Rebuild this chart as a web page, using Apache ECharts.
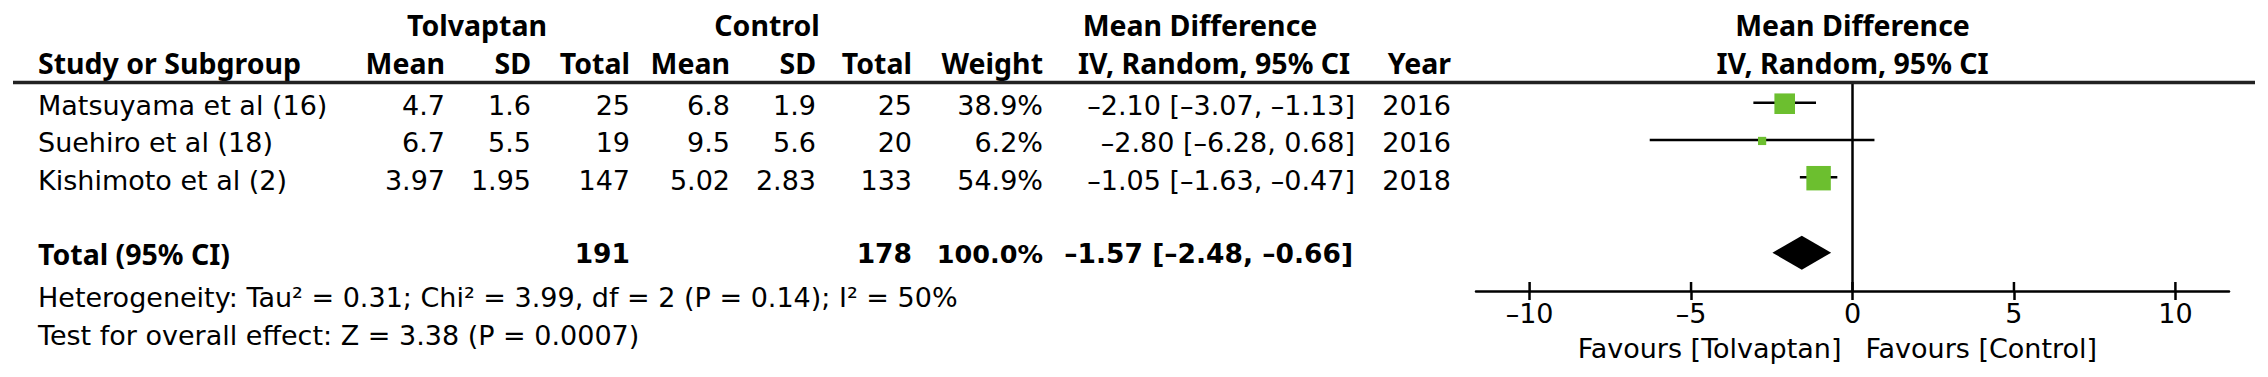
<!DOCTYPE html>
<html><head><meta charset="utf-8">
<script src="https://cdn.jsdelivr.net/npm/echarts@6/dist/echarts.min.js"></script>
<style>html,body{margin:0;padding:0;background:#fff}#c{width:2268px;height:377px}</style>
</head><body><div id="c"></div>
<script>
// ---------- data ----------
const studies   = ['Matsuyama et al (16)', 'Suehiro et al (18)', 'Kishimoto et al (2)'];
const tolMean   = [4.7, 6.7, 3.97];
const tolSD     = [1.6, 5.5, 1.95];
const tolTotal  = [25, 19, 147];
const ctrlMean  = [6.8, 9.5, 5.02];
const ctrlSD    = [1.9, 5.6, 2.83];
const ctrlTotal = [25, 20, 133];
const weights   = [38.9, 6.2, 54.9];
const mdValue   = [-2.10, -2.80, -1.05];
const mdLow     = [-3.07, -6.28, -1.63];
const mdHigh    = [-1.13, 0.68, -0.47];
const years     = [2016, 2016, 2018];
const totalTol  = 191;
const totalCtrl = 178;
const totalWeight = 100.0;
const totalMD   = [-1.57, -2.48, -0.66]; // estimate, low, high
const xTicks    = [-10, -5, 0, 5, 10];
const heterogeneityText = 'Heterogeneity: Tau\u00B2 = 0.31; Chi\u00B2 = 3.99, df = 2 (P = 0.14); I\u00B2 = 50%';
const overallText = 'Test for overall effect: Z = 3.38 (P = 0.0007)';
const favoursLeft = 'Favours [Tolvaptan]';
const favoursRight = 'Favours [Control]';

// ---------- helpers ----------
const FONT = 'DejaVu Sans';
const BFONT = 'Noto Sans';
const FS = 27;
const BFS = 28.5;
const dash = s => String(s).replace(/-/g, '\u2013');
const f2 = v => dash(v.toFixed(2));
const ciText = (m, l, h) => f2(m) + ' [' + f2(l) + ', ' + f2(h) + ']';
const totalRow = studies.length + 1;
const rows = studies.map((_, i) => i);

const chart = echarts.init(document.getElementById('c'), null, {renderer: 'svg'});

const studyData = studies.map((s, i) => [mdValue[i], rows[i], mdLow[i], mdHigh[i], weights[i]]);

chart.setOption({
  animation: false,
  grid: {left: 1476, right: 2268 - 2229, top: 82.5, bottom: 377 - 291},
  xAxis: {
    type: 'value', min: -11.66, max: 11.66,
    axisLine: {show: true, onZero: false, lineStyle: {color: '#000', width: 2.5}},
    axisTick: {show: true, length: 9, customValues: xTicks, lineStyle: {color: '#000', width: 2.5}},
    axisLabel: {customValues: xTicks, formatter: v => dash(v), fontFamily: FONT, fontSize: FS, color: '#000', margin: 9},
    splitLine: {show: false}
  },
  yAxis: {type: 'value', inverse: true, min: -0.57, max: 5.03, show: false},
  series: [
    {
      type: 'custom',
      data: studyData,
      renderItem: (params, api) => {
        const row = api.value(1);
        const p0 = api.coord([api.value(2), row]);
        const p1 = api.coord([api.value(3), row]);
        const c = api.coord([api.value(0), row]);
        const s = 3.3 * Math.sqrt(api.value(4));
        return {type: 'group', children: [
          {type: 'line', shape: {x1: p0[0], y1: p0[1] - 1, x2: p1[0], y2: p1[1] - 1}, style: {stroke: '#000', lineWidth: 2.5}},
          {type: 'rect', shape: {x: c[0] - s / 2, y: c[1] - s / 2, width: s, height: s}, style: {fill: '#6cbf2f'}}
        ]};
      },
      markLine: {
        silent: true, symbol: ['none', 'none'], label: {show: false},
        lineStyle: {color: '#000', width: 2.5, type: 'solid'},
        data: [{xAxis: 0}]
      },
      z: 3
    },
    {
      type: 'custom',
      data: [[totalMD[0], totalRow, totalMD[1], totalMD[2]]],
      renderItem: (params, api) => {
        const row = api.value(1);
        const c = api.coord([api.value(0), row]);
        const l = api.coord([api.value(2), row]);
        const h = api.coord([api.value(3), row]);
        const hh = 17;
        return {type: 'polygon', shape: {points: [[l[0], l[1]], [c[0], c[1] - hh], [h[0], h[1]], [c[0], c[1] + hh]]}, style: {fill: '#000'}};
      },
      z: 4
    },
    {
      // upper half of the axis ticks (ticks cross the axis line)
      type: 'custom',
      data: xTicks.map(v => [v]),
      renderItem: (params, api) => {
        const p = api.coord([api.value(0), 5.03]);
        return {type: 'line', shape: {x1: p[0], y1: p[1], x2: p[0], y2: p[1] - 9}, style: {stroke: '#000', lineWidth: 2.5}};
      },
      z: 2
    }
  ]
});

// ---------- table text ----------
const els = [];
function txt(text, x, y, align, bold, fam, size) {
  els.push({type: 'text', x: x, y: y, style: {
    text: text, fontFamily: fam || (bold ? BFONT : FONT), fontSize: size || (bold ? BFS : FS), fontWeight: bold ? 'bold' : 'normal', fill: '#000',
    align: align, verticalAlign: 'middle', textAlign: align, textVerticalAlign: 'middle'
  }});
}
const colX = [38, 445, 531, 630, 730, 816, 912, 1043, 1355, 1451];
const H1 = 25, H2 = 63;
txt('Tolvaptan', 477, H1, 'center', true);
txt('Control', 767, H1, 'center', true);
txt('Mean Difference', 1200, H1, 'center', true);
const zeroX = chart.convertToPixel({xAxisIndex: 0}, 0);
const midX = (1476 + 2229) / 2;
txt('Mean Difference', midX, H1, 'center', true);
txt('Study or Subgroup', colX[0], H2, 'left', true);
['Mean', 'SD', 'Total', 'Mean', 'SD', 'Total', 'Weight'].forEach((h, k) => txt(h, colX[k + 1], H2, 'right', true));
txt('IV, Random, 95% CI', 1214, H2, 'center', true);
txt('Year', colX[9], H2, 'right', true);
txt('IV, Random, 95% CI', midX, H2, 'center', true);

studies.forEach((s, i) => {
  const y = chart.convertToPixel({yAxisIndex: 0}, rows[i]) + 2;
  txt(s, colX[0], y, 'left', false);
  txt(String(tolMean[i]), colX[1], y, 'right', false);
  txt(String(tolSD[i]), colX[2], y, 'right', false);
  txt(String(tolTotal[i]), colX[3], y, 'right', false);
  txt(String(ctrlMean[i]), colX[4], y, 'right', false);
  txt(String(ctrlSD[i]), colX[5], y, 'right', false);
  txt(String(ctrlTotal[i]), colX[6], y, 'right', false);
  txt(weights[i].toFixed(1) + '%', colX[7], y, 'right', false);
  txt(ciText(mdValue[i], mdLow[i], mdHigh[i]), colX[8], y, 'right', false);
  txt(String(years[i]), colX[9], y, 'right', false);
});
const yT = chart.convertToPixel({yAxisIndex: 0}, totalRow) + 1;
txt('Total (95% CI)', colX[0], yT, 'left', true);
txt(String(totalTol), colX[3], yT, 'right', true, FONT, 26.5);
txt(String(totalCtrl), colX[6], yT, 'right', true, FONT, 26.5);
txt(totalWeight.toFixed(1) + '%', colX[7], yT, 'right', true, FONT, 25.5);
txt(ciText(totalMD[0], totalMD[1], totalMD[2]), colX[8] - 2, yT, 'right', true, FONT, 26.5);
txt(heterogeneityText, colX[0], 297, 'left', false);
txt(overallText, colX[0], 335, 'left', false);
txt(favoursLeft, zeroX - 11, 348, 'right', false);
txt(favoursRight, zeroX + 13, 348, 'left', false);
els.push({type: 'line', shape: {x1: 13, y1: 82.5, x2: 2255, y2: 82.5}, style: {stroke: '#222', lineWidth: 3.5}, z: 10});

chart.setOption({graphic: {elements: els}});
</script>
</body></html>
